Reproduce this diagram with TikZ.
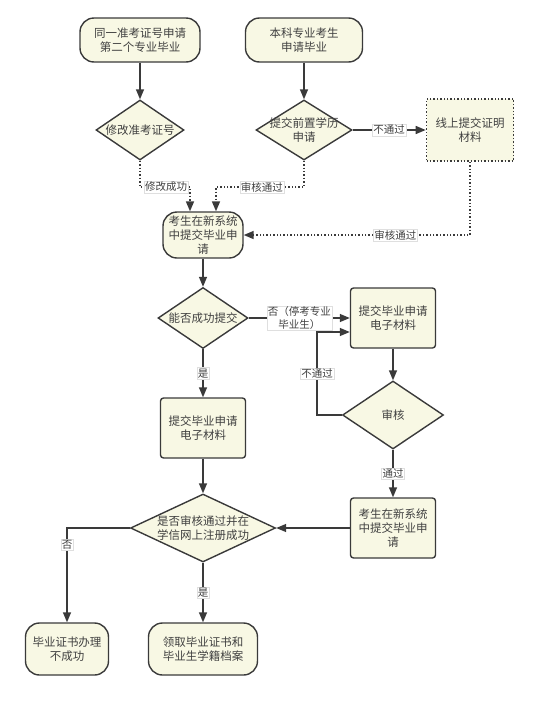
\documentclass[tikz,border=0pt]{standalone}
\usepackage{fontspec}
\newfontfamily\cjk{Noto Sans CJK SC}
\usetikzlibrary{shapes.geometric,arrows.meta}
\definecolor{cream}{RGB}{248,248,228}
\definecolor{edge}{RGB}{58,58,58}
\definecolor{txt}{RGB}{64,64,64}
\begin{document}
\begin{tikzpicture}[x=1pt,y=-1pt,
  base/.style={draw=edge, fill=cream, line width=1.4pt, text=txt, inner sep=0pt,
    font=\cjk\fontsize{11.5}{14}\selectfont, align=center},
  pill/.style={base, rectangle, rounded corners=14pt},
  boxn/.style={base, rectangle, rounded corners=3pt},
  dbox/.style={base, rectangle, dotted, line width=1.6pt},
  dia/.style={base, diamond, label={[text=txt, font=\cjk\fontsize{11.5}{14}\selectfont, align=center]center:#1}},
  conn/.style={draw=edge, line width=1.4pt, -{Triangle[length=10pt,width=8pt]}},
  dconn/.style={conn, dotted, line width=1.6pt},
  lbl/.style={fill=white, draw=gray!25, line width=0.4pt, solid, text=txt, inner sep=1pt,
    font=\cjk\fontsize{10.5}{12.5}\selectfont, align=center}
]
\useasboundingbox (0,0) rectangle (535,702);

\node[pill, minimum width=120, minimum height=44] (n1) at (140,40) {同一准考证号申请\\第二个专业毕业};
\node[pill, minimum width=117, minimum height=44] (n2) at (304,40) {本科专业考生\\申请毕业};
\node[dia={修改准考证号}, minimum width=88, minimum height=60] (d1) at (140,130) {};
\node[dia={提交前置学历\\申请}, minimum width=96, minimum height=60] (d2) at (304,130) {};
\node[dbox, minimum width=87, minimum height=62] (b5) at (470,130) {线上提交证明\\材料};
\node[pill, minimum width=80, minimum height=46] (n6) at (203,235) {考生在新系统\\中提交毕业申\\请};
\node[dia={能否成功提交}, minimum width=90, minimum height=61] (d7) at (203,318) {};
\node[boxn, minimum width=85, minimum height=60] (b8) at (393,318) {提交毕业申请\\电子材料};
\node[dia={审核}, minimum width=101, minimum height=68] (d9) at (393,415) {};
\node[boxn, minimum width=85, minimum height=60] (b10) at (393,528) {考生在新系统\\中提交毕业申\\请};
\node[boxn, minimum width=85, minimum height=60] (b11) at (203,428) {提交毕业申请\\电子材料};
\node[dia={是否审核通过并在\\学信网上注册成功}, minimum width=145, minimum height=68] (d12) at (203,528) {};
\node[pill, minimum width=83, minimum height=52] (n13) at (67,649) {毕业证书办理\\不成功};
\node[pill, minimum width=109, minimum height=52] (n14) at (203,649) {领取毕业证书和\\毕业生学籍档案};

\coordinate (a1) at (190,187);
\coordinate (a2) at (216,187);
\coordinate (c3) at (317,332);

\draw[conn] (n1.south) -- (d1.north);
\draw[conn] (n2.south) -- (d2.north);
\draw[dconn] (d1.south) |- node[lbl, pos=0.76]{修改成功} (a1) -- (a1 |- n6.north);
\draw[dconn] (d2.south) |- node[lbl, pos=0.74]{审核通过} (a2) -- (a2 |- n6.north);
\draw[conn] (d2.east) -- node[lbl]{不通过} (b5.west);
\draw[dconn] (b5.south) |- node[lbl, pos=0.665]{审核通过} (n6.east);
\draw[conn] (n6.south) -- (d7.north);
\draw[conn] (d7.east) -- node[lbl]{否（停考专业\\毕业生）} (b8.west);
\draw[conn] (b8.south) -- (d9.north);
\draw[conn] (d9.south) -- node[lbl]{通过} (b10.north);
\draw[conn] (d9.west) -| node[lbl, pos=0.75]{不通过} (c3) -- (c3 -| b8.west);
\draw[conn] (d7.south) -- node[lbl]{是} (b11.north);
\draw[conn] (b11.south) -- (d12.north);
\draw[conn] (b10.west) -- (d12.east);
\draw[conn] (d12.west) -| node[lbl, pos=0.59]{否} (n13.north);
\draw[conn] (d12.south) -- node[lbl]{是} (n14.north);
\end{tikzpicture}
\end{document}
